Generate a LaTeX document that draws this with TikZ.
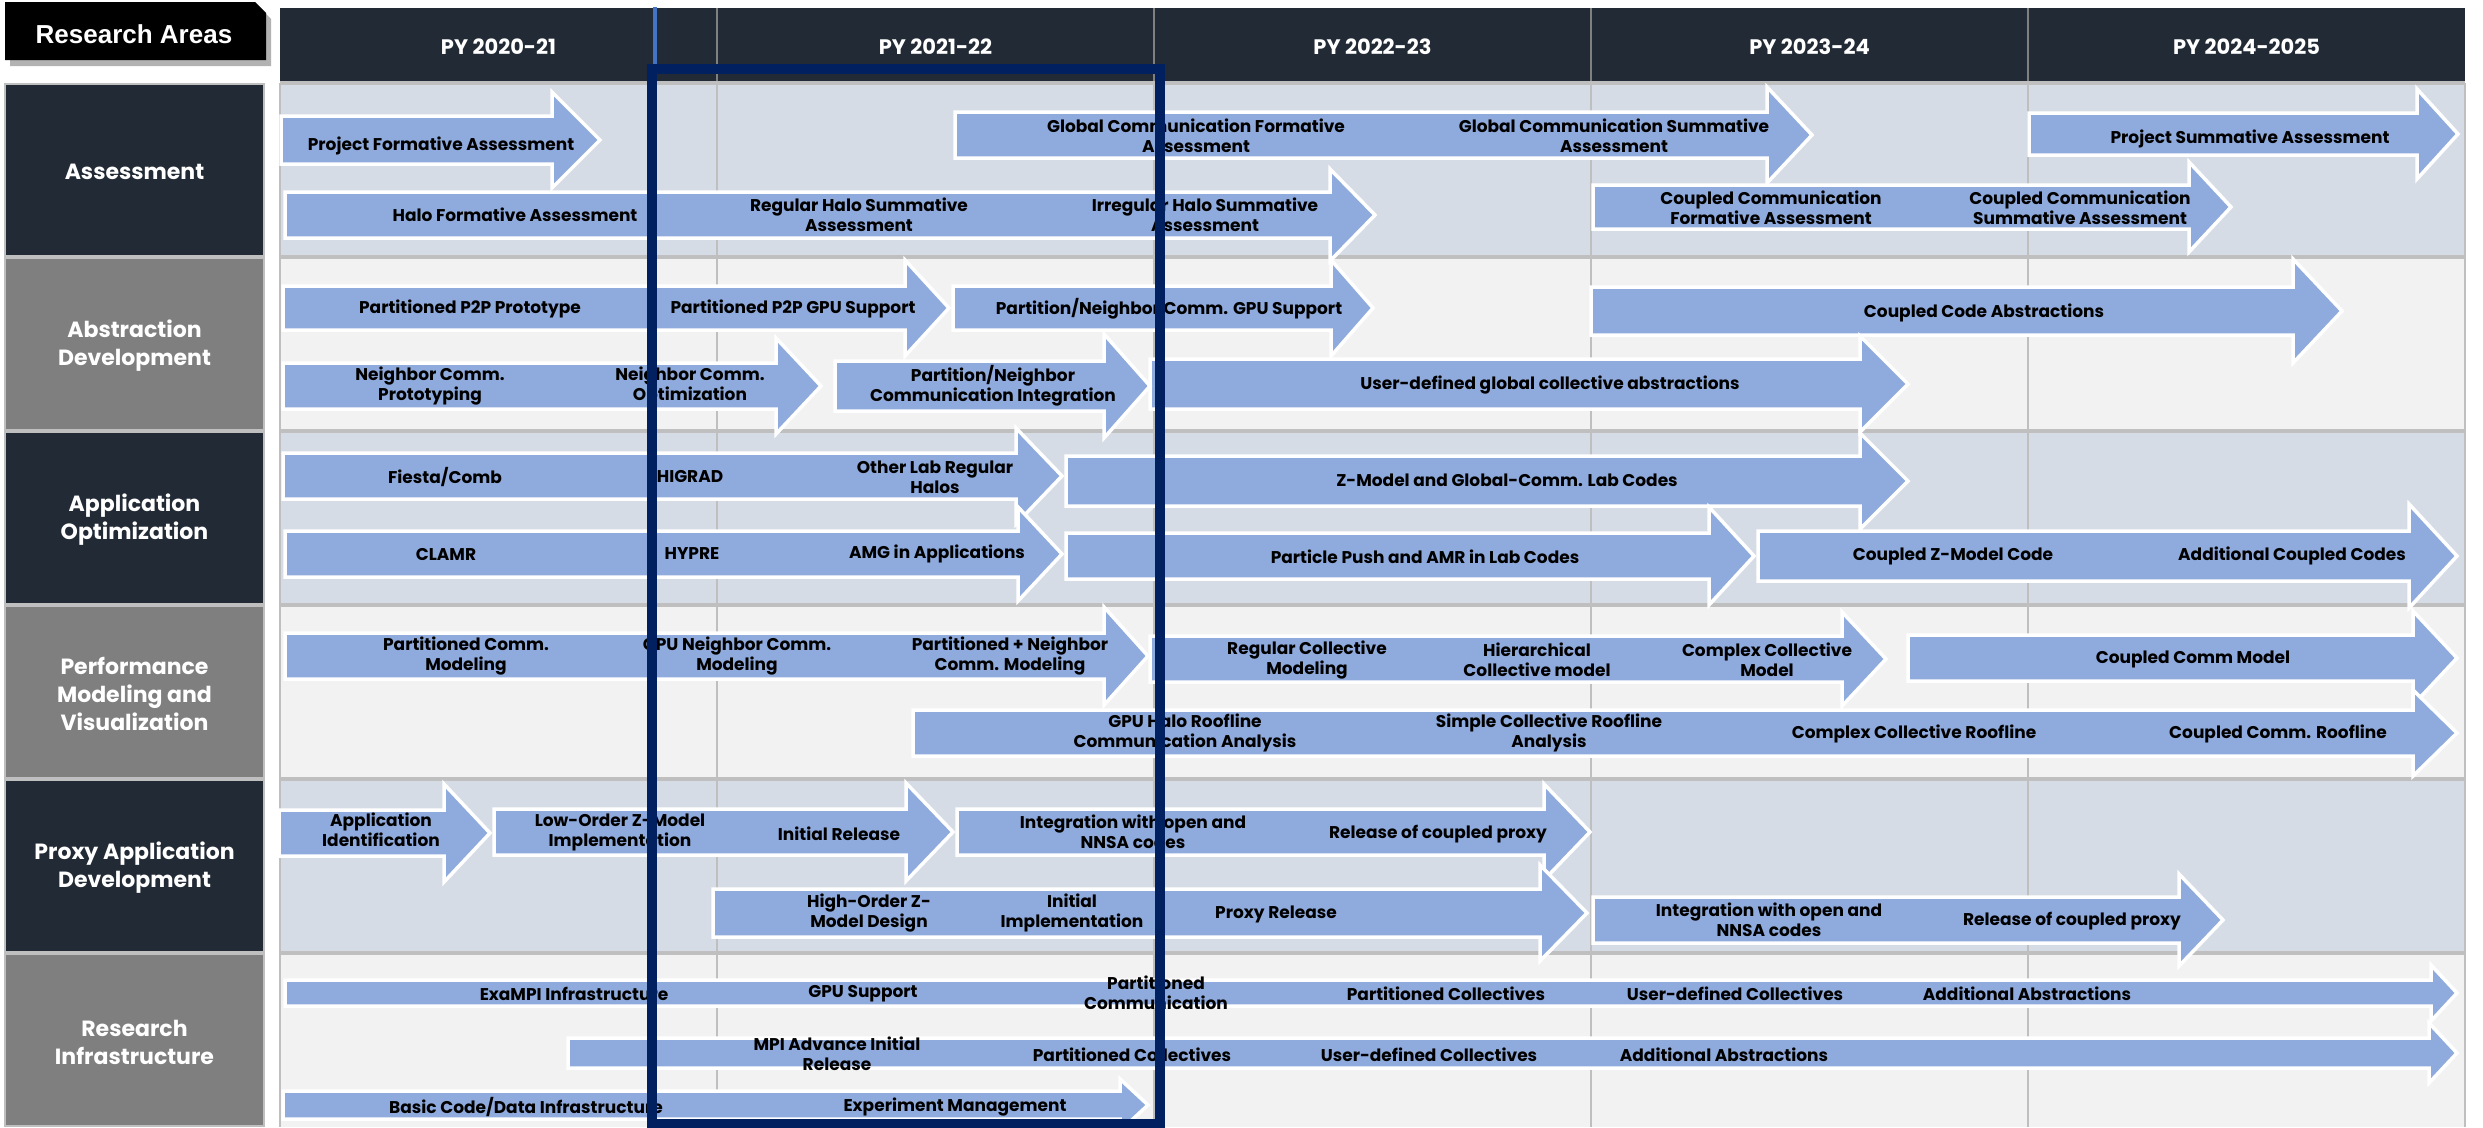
\documentclass[tikz,border=0pt]{standalone}
\usepackage{fontspec}
\setmainfont{Poppins}
\newfontfamily\headfont{Liberation Sans}
\definecolor{hdrdark}{HTML}{222A35}
\definecolor{lblgrey}{HTML}{7F7F7F}
\definecolor{bandblue}{HTML}{D6DCE5}
\definecolor{bandgrey}{HTML}{F2F2F2}
\definecolor{gridgrey}{HTML}{BFBFBF}
\definecolor{arrowfill}{HTML}{8FAADC}
\definecolor{navy}{HTML}{002060}
\definecolor{thinblue}{HTML}{4472C4}
\colorlet{arrow edge}{white}
\def\blockarrow#1#2#3#4#5#6{% start, head base, tip, centre, body half, head half
  \filldraw[blockarrow] (#1,#4-#5) -- (#2,#4-#5) -- (#2,#4-#6) -- (#3,#4)
    -- (#2,#4+#6) -- (#2,#4+#5) -- (#1,#4+#5) -- cycle;}
\tikzset{blockarrow/.style={fill=arrowfill, draw=arrow edge, line width=3.5, line join=miter},
    lbl/.style={font=\bfseries\fontsize{17}{20}\selectfont, align=center, inner sep=0pt},
    arealbl/.style={font=\bfseries\fontsize{22}{28}\selectfont, text=white, align=center},
    pylbl/.style={font=\bfseries\fontsize{21}{25}\selectfont, text=white},
    gridline/.style={draw=gridgrey, line width=2},
    rowline/.style={draw=gridgrey, line width=3.5}}

\begin{document}
\begin{tikzpicture}[x=1pt,y=-1pt]
    \useasboundingbox (0,0) rectangle (2483,1127);
    % research areas tab
    \fill[black!30] (10,8) -- (260,8) -- (271,19) -- (271,66) -- (10,66) -- cycle;
    \fill[black] (5,2) -- (255,2) -- (266,13) -- (266,60) -- (5,60) -- cycle;
    \node[font=\headfont\bfseries\fontsize{26}{30}\selectfont, text=white] (areas) at (134,34) {Research Areas};
    % header
    \fill[hdrdark] (280,8) rectangle (2465,83);
    \foreach \i/\t in {0/PY 2020-21,1/PY 2021-22,2/PY 2022-23,3/PY 2023-24,4/PY 2024-2025}
      \node[pylbl] (py\i) at (498.5+437*\i,47) {\t};
    \foreach \x in {717,1154,1591,2028}
      \draw[draw=gray, line width=1.5] (\x,8) -- (\x,83);
    % row bands
    \foreach \r/\c in {0/bandblue,1/bandgrey,2/bandblue,3/bandgrey,4/bandblue,5/bandgrey}
      \fill[\c] (280,83+174*\r) rectangle (2465,257+174*\r);
    \foreach \x in {717,1154,1591,2028,2465}
      \draw[gridline] (\x,83) -- (\x,1127);
    \foreach \y in {83,257,431,605,779,953}
      \draw[rowline] (280,\y) -- (2465,\y);
    \draw[gridline] (280,83) -- (280,1127);
    % area boxes
    \foreach \r/\c/\t in {0/hdrdark/Assessment, 1/lblgrey/{Abstraction\\Development},
        2/hdrdark/{Application\\Optimization}, 3/lblgrey/{Performance\\Modeling and\\Visualization},
        4/hdrdark/{Proxy Application\\Development}, 5/lblgrey/{Research\\Infrastructure}}
      {\filldraw[fill=\c, draw=gridgrey, line width=2] (5,84+174*\r) rectangle (264,256+174*\r);
       \node[arealbl] (area\r) at (134.5,172+174*\r) {\t};}

    % assessment
    \blockarrow{281}{552}{600}{140}{24}{48}
    \blockarrow{955}{1767}{1812}{135}{23}{48}
    \blockarrow{2029}{2417}{2458}{134}{21}{45}
    \blockarrow{285}{1330}{1375}{215}{23}{46}
    \blockarrow{1593}{2189}{2231}{207}{22}{45}
    % abstraction development
    \blockarrow{283}{905}{949}{308}{22}{48}
    \blockarrow{953}{1331}{1373}{308}{22}{48}
    \blockarrow{1591}{2293}{2342}{311}{24}{52}
    \blockarrow{1150}{1860}{1908}{384}{25}{48}
    \blockarrow{283}{776}{821}{386}{23}{48}
    \blockarrow{835}{1104}{1150}{386}{25}{52}
    % application optimization
    \blockarrow{283}{1016}{1062}{476}{23}{48}
    \blockarrow{1066}{1860}{1908}{481}{25}{48}
    \blockarrow{285}{1018}{1062}{554}{23}{47}
    \blockarrow{1066}{1709}{1754}{556}{23}{49}
    \blockarrow{1758}{2409}{2457}{556}{25}{52}
    % performance modeling
    \blockarrow{1150}{1842}{1886}{659}{23}{47}
    \blockarrow{285}{1104}{1148}{656}{23}{49}
    \blockarrow{1908}{2413}{2457}{658}{23}{47}
    \blockarrow{913}{2413}{2457}{733}{23}{43}
    % proxy application
    \blockarrow{279}{444}{490}{833}{23}{49}
    \blockarrow{494}{906}{953}{832}{23}{49}
    \blockarrow{957}{1544}{1590}{832}{23}{48}
    \blockarrow{713}{1540}{1587}{913}{24}{48}
    \blockarrow{1593}{2179}{2223}{920}{23}{46}
    % research infrastructure
    \blockarrow{285}{2431}{2457}{993}{13}{28}
    \blockarrow{568}{2429}{2457}{1053}{15}{30}
    \blockarrow{283}{1120}{1148}{1105}{14}{26}

    \node[lbl] (a1) at (441,146) {Project Formative Assessment};
    \node[lbl] (a2a) at (1196,136) {Global Communication Formative\\Assessment};
    \node[lbl] (a2b) at (1614,136) {Global Communication Summative\\Assessment};
    \node[lbl] (a3) at (2250,139) {Project Summative Assessment};
    \node[lbl] (a4a) at (515,215) {Halo Formative Assessment};
    \node[lbl] (a4b) at (859,215) {Regular Halo Summative\\Assessment};
    \node[lbl] (a4c) at (1205,215) {Irregular Halo Summative\\Assessment};
    \node[lbl] (a5a) at (1771,208) {Coupled Communication\\Formative Assessment};
    \node[lbl] (a5b) at (2080,208) {Coupled Communication\\Summative Assessment};

    \node[lbl] (b1a) at (470,309) {Partitioned P2P Prototype};
    \node[lbl] (b1b) at (793,309) {Partitioned P2P GPU Support};
    \node[lbl] (b2) at (1169,309) {Partition/Neighbor Comm. GPU Support};
    \node[lbl] (b3) at (1984,313) {Coupled Code Abstractions};
    \node[lbl] (b4a) at (430,386) {Neighbor Comm.\\Prototyping};
    \node[lbl] (b4b) at (690,386) {Neighbor Comm.\\Optimization};
    \node[lbl] (b5) at (993,386) {Partition/Neighbor\\Communication Integration};
    \node[lbl] (b6) at (1550,385) {User-defined global collective abstractions};

    \node[lbl] (c1a) at (445,477) {Fiesta/Comb};
    \node[lbl] (c1b) at (690,477) {HIGRAD};
    \node[lbl] (c1c) at (935,477) {Other Lab Regular\\Halos};
    \node[lbl] (c2) at (1507,480) {Z-Model and Global-Comm. Lab Codes};
    \node[lbl] (c3a) at (446,554) {CLAMR};
    \node[lbl] (c3b) at (692,554) {HYPRE};
    \node[lbl] (c3c) at (937,554) {AMG in Applications};
    \node[lbl] (c4) at (1425,557) {Particle Push and AMR in Lab Codes};
    \node[lbl] (c5a) at (1953,556) {Coupled Z-Model Code};
    \node[lbl] (c5b) at (2292,556) {Additional Coupled Codes};

    \node[lbl] (d1a) at (466,656) {Partitioned Comm.\\Modeling};
    \node[lbl] (d1b) at (737,656) {GPU Neighbor Comm.\\Modeling};
    \node[lbl] (d1c) at (1010,656) {Partitioned + Neighbor\\Comm. Modeling};
    \node[lbl] (d2a) at (1307,660) {Regular Collective\\Modeling};
    \node[lbl] (d2b) at (1537,660) {Hierarchical\\Collective model};
    \node[lbl] (d2c) at (1767,660) {Complex Collective\\Model};
    \node[lbl] (d3) at (2193,659) {Coupled Comm Model};
    \node[lbl] (d4a) at (1185,733) {GPU Halo Roofline\\Communication Analysis};
    \node[lbl] (d4b) at (1549,733) {Simple Collective Roofline\\Analysis};
    \node[lbl] (d4c) at (1914,734) {Complex Collective Roofline};
    \node[lbl] (d4d) at (2278,734) {Coupled Comm. Roofline};

    \node[lbl] (e1) at (381,830) {Application\\Identification};
    \node[lbl] (e2a) at (620,832) {Low-Order Z-Model\\Implementation};
    \node[lbl] (e2b) at (839,834) {Initial Release};
    \node[lbl] (e3a) at (1133,832) {Integration with open and\\NNSA codes};
    \node[lbl] (e3b) at (1438,834) {Release of coupled proxy};
    \node[lbl] (e4a) at (869,913) {High-Order Z-\\Model Design};
    \node[lbl] (e4b) at (1072,913) {Initial\\Implementation};
    \node[lbl] (e4c) at (1276,914) {Proxy Release};
    \node[lbl] (e5a) at (1769,920) {Integration with open and\\NNSA codes};
    \node[lbl] (e5b) at (2072,921) {Release of coupled proxy};

    \node[lbl] (f1a) at (574,994) {ExaMPI Infrastructure};
    \node[lbl] (f1b) at (863,994) {GPU Support};
    \node[lbl] (f1c) at (1156,993) {Partitioned\\Communication};
    \node[lbl] (f1d) at (1446,994) {Partitioned Collectives};
    \node[lbl] (f1e) at (1735,994) {User-defined Collectives};
    \node[lbl] (f1f) at (2027,994) {Additional Abstractions};
    \node[lbl] (f2a) at (837,1054) {MPI Advance Initial\\Release};
    \node[lbl] (f2b) at (1132,1055) {Partitioned Collectives};
    \node[lbl] (f2c) at (1429,1055) {User-defined Collectives};
    \node[lbl] (f2d) at (1724,1055) {Additional Abstractions};
    \node[lbl] (f3a) at (526,1107) {Basic Code/Data Infrastructure};
    \node[lbl] (f3b) at (955,1107) {Experiment Management};

    % current year frame
    \draw[thinblue, line width=4] (655,7) -- (655,69);
    \draw[navy, line width=10] (652,69) rectangle (1160,1124);
\end{tikzpicture}
\end{document}
